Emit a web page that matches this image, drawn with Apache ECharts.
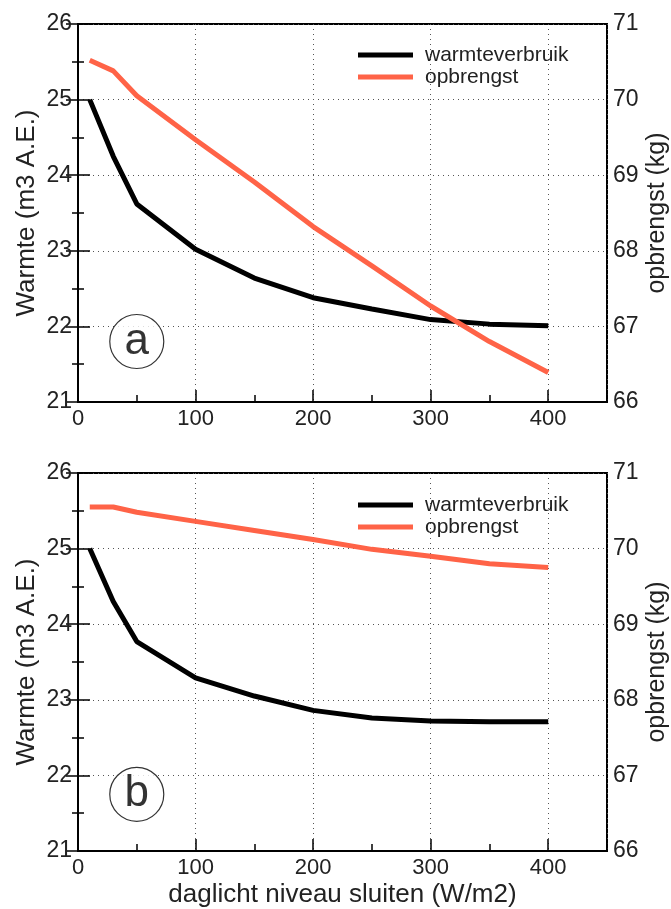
<!DOCTYPE html>
<html>
<head>
<meta charset="utf-8">
<script src="https://cdn.jsdelivr.net/npm/echarts@6/dist/echarts.min.js"></script>
<style>
html,body{margin:0;padding:0;background:#fff;}
#chart{width:671px;height:909px;}
</style>
</head>
<body>
<div id="chart"></div>
<script>
// ---- data ----
var xValues = [10, 30, 50, 100, 150, 200, 250, 300, 350, 400];
var warmteA = [25.0, 24.25, 23.62, 23.02, 22.64, 22.38, 22.23, 22.09, 22.03, 22.01];
var opbrengstA = [70.52, 70.38, 70.05, 69.47, 68.91, 68.32, 67.8, 67.27, 66.8, 66.39];
var warmteB = [25.0, 24.30, 23.77, 23.29, 23.05, 22.86, 22.76, 22.72, 22.71, 22.71];
var opbrengstB = [70.55, 70.55, 70.48, 70.36, 70.24, 70.12, 69.99, 69.90, 69.80, 69.75];
var panelLabels = ['a', 'b'];
var panelLabelPos = [[50, 21.8], [50, 21.75]];
var seriesNames = ['warmteverbruik', 'opbrengst'];
var xName = 'daglicht niveau sluiten (W/m2)';
var leftName = 'Warmte (m3 A.E.)';
var rightName = 'opbrengst (kg)';

// ---- styling ----
var FONT = 'Liberation Sans, Arial, Helvetica, sans-serif';
var TXT = '#222';
var ORANGE = '#ff6347';

function pairs(xs, ys) { return xs.map(function (x, i) { return [x, ys[i]]; }); }

var grids = [
  { left: 78, top: 24, width: 529, height: 378 },
  { left: 78, top: 473, width: 529, height: 378 }
];

var xAxes = [], yAxes = [], series = [], legends = [];
[0, 1].forEach(function (g) {
  // major x axis
  xAxes.push({
    type: 'value', gridIndex: g, min: 0, max: 450, interval: 100,
    name: g === 1 ? xName : '', nameLocation: 'middle', nameGap: 31, nameMoveOverlap: false,
    nameTextStyle: { fontFamily: FONT, fontSize: 26, color: TXT },
    axisLine: { show: true, lineStyle: { color: '#000', width: 2 } },
    axisTick: { show: true, inside: true, length: 12, lineStyle: { color: '#000', width: 1.5 } },
    axisLabel: { margin: 6, fontFamily: FONT, fontSize: 22, color: TXT,
      formatter: function (v) { return v > 400 ? '' : String(v); } },
    splitLine: { show: true, lineStyle: { color: '#555', width: 1, type: [1, 4] } }
  });
  // minor x ticks
  xAxes.push({
    type: 'value', gridIndex: g, min: 0, max: 450, interval: 50, position: 'bottom',
    axisLine: { show: false },
    axisTick: { show: true, inside: true, length: 7, lineStyle: { color: '#000', width: 1.5 } },
    axisLabel: { show: false },
    splitLine: { show: false }
  });
  yAxes.push({
    type: 'value', gridIndex: g, min: 21, max: 26, interval: 1, position: 'left',
    name: leftName, nameLocation: 'middle', nameRotate: 90, nameGap: 38, nameMoveOverlap: false,
    nameTextStyle: { fontFamily: FONT, fontSize: 26, color: TXT },
    axisLine: { show: true, lineStyle: { color: '#000', width: 2 } },
    axisTick: { show: true, inside: true, length: 12, lineStyle: { color: '#000', width: 1.5 } },
    minorTick: { show: true, splitNumber: 2, length: 6, lineStyle: { color: '#000', width: 1.5 } },
    axisLabel: { margin: 6, fontFamily: FONT, fontSize: 23, color: TXT },
    splitLine: { show: true, lineStyle: { color: '#555', width: 1, type: [1, 4] } }
  });
  yAxes.push({
    type: 'value', gridIndex: g, min: 66, max: 71, interval: 1, position: 'right',
    name: rightName, nameLocation: 'middle', nameRotate: 90, nameGap: 38, nameMoveOverlap: false,
    nameTextStyle: { fontFamily: FONT, fontSize: 25, color: TXT },
    axisLine: { show: true, lineStyle: { color: '#000', width: 2 } },
    axisTick: { show: true, inside: true, length: 12, lineStyle: { color: '#000', width: 1.5 } },
    minorTick: { show: true, splitNumber: 2, length: 6, lineStyle: { color: '#000', width: 1.5 } },
    axisLabel: { margin: 6, fontFamily: FONT, fontSize: 23, color: TXT },
    splitLine: { show: false }
  });
  var w = g === 0 ? warmteA : warmteB;
  var o = g === 0 ? opbrengstA : opbrengstB;
  series.push({
    name: seriesNames[0], type: 'line', xAxisIndex: g * 2, yAxisIndex: g * 2,
    data: pairs(xValues, w), showSymbol: false, symbol: 'none',
    lineStyle: { color: '#000', width: 5 }, itemStyle: { color: '#000' }, z: 3
  });
  series.push({
    name: seriesNames[1], type: 'line', xAxisIndex: g * 2, yAxisIndex: g * 2 + 1,
    data: pairs(xValues, o), showSymbol: false, symbol: 'none',
    lineStyle: { color: ORANGE, width: 5 }, itemStyle: { color: ORANGE }, z: 4
  });
  series.push({
    type: 'scatter', xAxisIndex: g * 2, yAxisIndex: g * 2,
    data: [panelLabelPos[g]], symbol: 'circle', symbolSize: 54,
    itemStyle: { color: '#fff', borderColor: '#000', borderWidth: 1.2 },
    label: { show: true, position: 'inside', formatter: panelLabels[g],
      fontFamily: FONT, fontSize: 44, color: '#000' },
    emphasis: { disabled: true }, silent: true, z: 5
  });
  legends.push({
    orient: 'vertical', left: 353, top: g === 0 ? 39 : 489,
    data: seriesNames, icon: 'rect', itemWidth: 55, itemHeight: 5, itemGap: 0,
    selectedMode: false,
    textStyle: { fontFamily: FONT, fontSize: 21, color: TXT, lineHeight: 22, padding: [0, 0, 0, 7] }
  });
});

var chart = echarts.init(document.getElementById('chart'), null, { renderer: 'canvas' });
chart.setOption({
  animation: false,
  backgroundColor: '#fff',
  grid: grids.map(function (gr) { return Object.assign({ show: true, borderColor: '#000', borderWidth: 2, backgroundColor: 'transparent', containLabel: false, outerBoundsMode: 'none' }, gr); }),
  xAxis: xAxes,
  yAxis: yAxes,
  legend: legends,
  series: series
});
</script>
</body>
</html>
